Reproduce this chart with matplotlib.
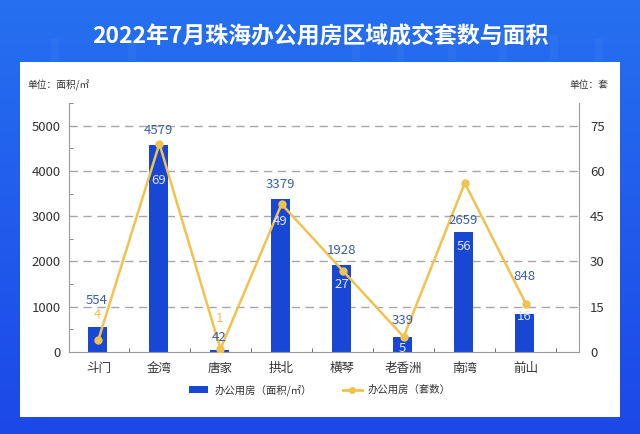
import numpy as np
import matplotlib
matplotlib.use("Agg")
import matplotlib.pyplot as plt
from matplotlib.patches import Rectangle, Patch
from matplotlib.lines import Line2D
from matplotlib.ticker import FixedLocator

plt.rcParams['font.family'] = ['Noto Sans CJK SC', 'DejaVu Sans']

# ---- data ----
categories = ["斗门", "金湾", "唐家", "拱北", "横琴", "老香洲", "南湾", "前山"]
area = [554, 4579, 42, 3379, 1928, 339, 2659, 848]      # 面积 / ㎡
units = [4, 69, 1, 49, 27, 5, 56, 16]                   # 套数
title = "2022年7月珠海办公用房区域成交套数与面积"
left_ticks = [0, 1000, 2000, 3000, 4000, 5000]
right_ticks = [0, 15, 30, 45, 60, 75]

# label offsets (pixels, relative to bar top) -- style only
area_dy = [26, 14, 13, 15, 14, 16, 11, 37]
unit_dy = [12, -36, 32, -22, -20, -12, -15, -3]

BAR = "#1847d6"
GOLD = "#f1c24e"
LABEL_BLUE = "#3a5ea6"
GRID = "#a8a8a8"

W, H = 640, 434
fig = plt.figure(figsize=(W / 100, H / 100), dpi=100)

# background gradient
bg = fig.add_axes([0, 0, 1, 1], zorder=-10)
top = np.array([38, 112, 240]) / 255
bot = np.array([28, 72, 232]) / 255
grad = np.linspace(0, 1, 200)[:, None]
img = top[None, None, :] * (1 - grad[:, :, None]) + bot[None, None, :] * grad[:, :, None]
img = np.repeat(img, 2, axis=1)
bg.imshow(img, aspect="auto", extent=[0, 1, 0, 1], origin="upper")
# faint decorative columns in header
for xx, hh in [(0.08, 0.05), (0.20, 0.04), (0.55, 0.06), (0.62, 0.08), (0.70, 0.05),
               (0.78, 0.07), (0.86, 0.06), (0.93, 0.05)]:
    bg.add_patch(Rectangle((xx, 0.86), 0.012, hh, color="white", alpha=0.035, lw=0))
bg.set_xlim(0, 1)
bg.set_ylim(0, 1)
bg.axis("off")

# white panel
fig.patches.append(Rectangle((20 / W, 1 - 417 / H), 600 / W, (417 - 62) / H,
                             transform=fig.transFigure, facecolor="white",
                             edgecolor="none", zorder=-5))

fig.text(0.5, 1 - 36 / H, title, ha="center", va="center", color="white",
         fontsize=16.5, fontweight="bold")
fig.text(27 / W, 1 - 85 / H, "单位：面积/㎡", ha="left", va="center",
         color="#333333", fontsize=7)
fig.text(608 / W, 1 - 85 / H, "单位：套", ha="right", va="center",
         color="#333333", fontsize=7)

ax = fig.add_axes([69 / W, 1 - 352 / H, (579 - 69) / W, (352 - 103) / H])
ax.set_facecolor("none")
x = np.arange(len(categories))
ax.bar(x - 0.02, area, width=0.31, color=BAR, zorder=2)
ax.set_xlim(-0.48, 7.87)
ax.set_ylim(0, 5500)
ax.set_yticks(left_ticks)
ax.set_yticklabels([str(t) for t in left_ticks], fontsize=9.5, color="#333333")
ax.yaxis.set_minor_locator(FixedLocator([500, 1500, 2500, 3500, 4500, 5500]))
ax.tick_params(axis="y", which="major", length=0, pad=6)
ax.tick_params(axis="y", which="minor", direction="in", length=3, color="#777777")
for t in left_ticks[1:]:
    ax.axhline(t, color=GRID, lw=1, ls=(0, (6, 4)), zorder=1)
ax.set_xticks(x)
ax.set_xticklabels(categories, fontsize=9, color="#333333")
ax.xaxis.set_minor_locator(FixedLocator(np.arange(0.5, 7.6, 1)))
ax.tick_params(axis="x", which="major", length=0, pad=7)
ax.tick_params(axis="x", which="minor", direction="in", length=3, color="#555555")
for s in ["left", "right", "bottom"]:
    ax.spines[s].set_color("#9a9a9a")
ax.spines["top"].set_visible(False)

ax2 = ax.twinx()
ax2.set_ylim(0, 82.5)
ax2.plot(x, units, color=GOLD, lw=1.8, marker="o", markersize=5, zorder=4)
ax2.set_yticks(right_ticks)
ax2.set_yticklabels([str(t) for t in right_ticks], fontsize=9.5, color="#333333")
ax2.tick_params(axis="y", length=0, pad=8)
for s in ["left", "right", "bottom", "top"]:
    ax2.spines[s].set_visible(False)

for i in range(len(categories)):
    ax2.annotate(str(area[i]), xy=(x[i] - 0.02, area[i]), xycoords=ax.transData,
                 xytext=(0, area_dy[i]), textcoords="offset pixels",
                 ha="center", va="center", fontsize=9.5, color=LABEL_BLUE, zorder=6)
    c = GOLD if unit_dy[i] > 0 else "#dfe6f8"
    ax2.annotate(str(units[i]), xy=(x[i] - 0.02, area[i]), xycoords=ax.transData,
                 xytext=(0, unit_dy[i]), textcoords="offset pixels",
                 ha="center", va="center", fontsize=9.5, color=c, zorder=6)

handles = [Patch(facecolor=BAR, edgecolor="none"),
           Line2D([0], [0], color=GOLD, lw=2, marker="o", markersize=4)]
fig.legend(handles, ["办公用房（面积/㎡）", "办公用房（套数）"], loc="center",
           bbox_to_anchor=(0.5, 1 - 390 / H), ncol=2, frameon=False, fontsize=7.5,
           handlelength=1.8, handleheight=0.6, columnspacing=3, handletextpad=0.6,
           labelcolor="#333333")

fig.savefig("out.png", dpi=100)
